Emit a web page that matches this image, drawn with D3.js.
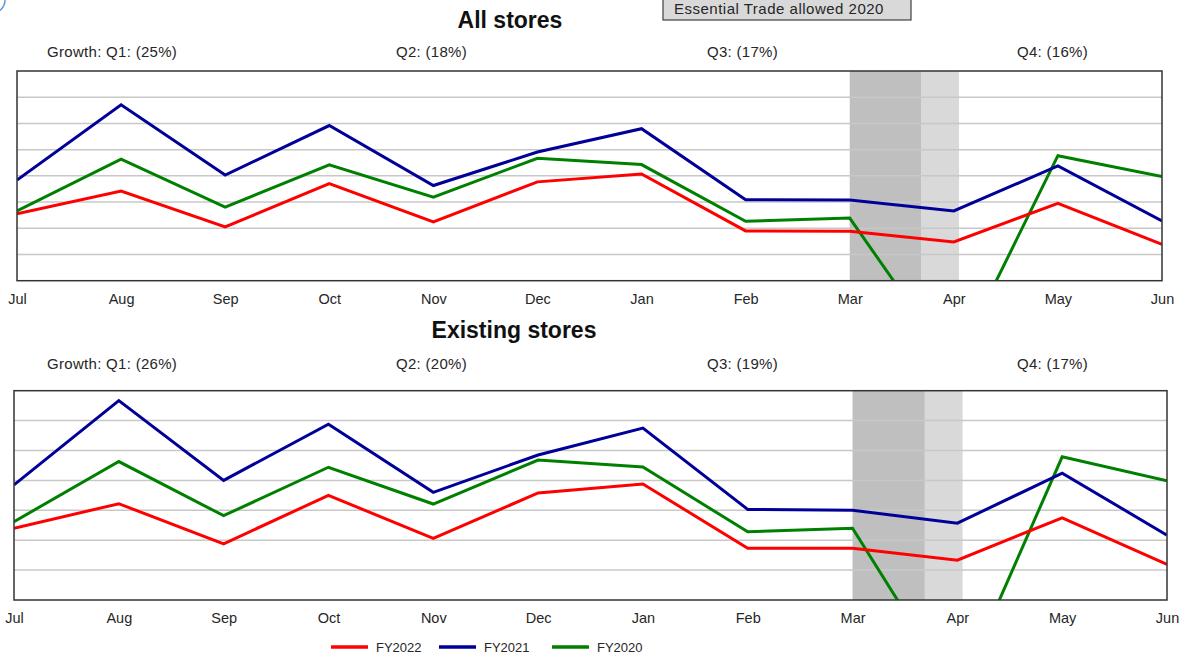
<!DOCTYPE html>
<html>
<head>
<meta charset="utf-8">
<script src="https://cdn.jsdelivr.net/npm/d3@7"></script>
<style>
  html, body { margin: 0; padding: 0; background: #fff; }
  svg { display: block; font-family: "Liberation Sans", Arial, sans-serif; }
</style>
</head>
<body>
<svg id="chart" width="1184" height="658"></svg>
<script>
// Months of the financial year
const months = ["Jul", "Aug", "Sep", "Oct", "Nov", "Dec", "Jan", "Feb", "Mar", "Apr", "May", "Jun"];

// All stores – monthly sales index
const allFY2022 = [2.55, 3.42, 2.05, 3.70, 2.24, 3.77, 4.07, 1.90, 1.89, 1.48, 2.95, 1.39];
const allFY2021 = [3.84, 6.71, 4.03, 5.92, 3.63, 4.91, 5.80, 3.09, 3.08, 2.66, 4.38, 2.28];
const allFY2020 = [2.66, 4.64, 2.81, 4.42, 3.19, 4.67, 4.43, 2.27, 2.39, -3.29, 4.77, 3.97];
const allGrowth = ["Growth: Q1: (25%)", "Q2: (18%)", "Q3: (17%)", "Q4: (16%)"];

// Existing stores – monthly sales index
const exFY2022 = [2.40, 3.22, 1.88, 3.50, 2.06, 3.58, 3.88, 1.73, 1.73, 1.33, 2.75, 1.19];
const exFY2021 = [3.85, 6.67, 4.00, 5.88, 3.60, 4.85, 5.75, 3.03, 3.00, 2.57, 4.24, 2.17];
const exFY2020 = [2.62, 4.63, 2.82, 4.44, 3.21, 4.68, 4.45, 2.28, 2.40, -3.20, 4.79, 3.99];
const exGrowth = ["Growth: Q1: (26%)", "Q2: (20%)", "Q3: (19%)", "Q4: (17%)"];

// Lockdown periods in month-index units (from Mar)
const lockdownStrict = [8.0, 8.69];
const lockdownEssential = [8.69, 9.05];

const seriesNames = ["FY2022", "FY2021", "FY2020"];
const seriesColors = ["#ff0000", "#000099", "#008000"];

const svg = d3.select("#chart");

function drawPanel(cfg) {
  const { title, titleX, titleY, growth, growthY, left, right, top, bottom, yMax, series, axisY, id } = cfg;
  const x = d3.scaleLinear().domain([0, months.length - 1]).range([left, right]);
  const y = d3.scaleLinear().domain([0, yMax]).range([bottom, top]);

  const g = svg.append("g");

  // title
  g.append("text")
    .attr("x", titleX)
    .attr("y", titleY)
    .attr("text-anchor", "middle")
    .attr("font-weight", "bold")
    .attr("font-size", 23)
    .attr("fill", "#111")
    .text(title);

  // quarterly growth labels
  const growthX = [47, 396, 707, 1017];
  g.selectAll(".growth").data(growth).enter().append("text")
    .attr("x", (d, i) => growthX[i])
    .attr("y", growthY)
    .attr("font-size", 15)
    .attr("letter-spacing", 0.3)
    .attr("fill", "#262626")
    .text(d => d);

  // shaded lockdown bands
  g.append("rect")
    .attr("x", x(lockdownStrict[0])).attr("y", top)
    .attr("width", x(lockdownStrict[1]) - x(lockdownStrict[0]))
    .attr("height", bottom - top)
    .attr("fill", "#bfbfbf");
  g.append("rect")
    .attr("x", x(lockdownEssential[0])).attr("y", top)
    .attr("width", x(lockdownEssential[1]) - x(lockdownEssential[0]))
    .attr("height", bottom - top)
    .attr("fill", "#d9d9d9");

  // horizontal gridlines
  const grid = d3.range(1, yMax);
  g.selectAll(".grid").data(grid).enter().append("line")
    .attr("x1", left).attr("x2", right)
    .attr("y1", d => y(d)).attr("y2", d => y(d))
    .attr("stroke", "#c8c8c8")
    .attr("stroke-width", 1.5);

  // clip area for lines
  svg.append("defs").append("clipPath").attr("id", id)
    .append("rect")
    .attr("x", left).attr("y", top)
    .attr("width", right - left).attr("height", bottom - top);

  const line = d3.line().x((d, i) => x(i)).y(d => y(d));
  const lines = g.append("g").attr("clip-path", `url(#${id})`);
  // draw older years first so FY2022 sits on top
  [2, 1, 0].forEach(k => {
    lines.append("path")
      .datum(series[k])
      .attr("d", line)
      .attr("fill", "none")
      .attr("stroke", seriesColors[k])
      .attr("stroke-width", 3)
      .attr("stroke-linejoin", "miter");
  });

  // frame
  g.append("rect")
    .attr("x", left).attr("y", top)
    .attr("width", right - left).attr("height", bottom - top)
    .attr("fill", "none")
    .attr("stroke", "#333")
    .attr("stroke-width", 1.5);

  // month axis labels
  const axis = d3.axisBottom(x)
    .tickValues(d3.range(months.length))
    .tickFormat(i => months[i])
    .tickSize(0)
    .tickPadding(0);
  const ax = g.append("g").attr("transform", `translate(0,${axisY})`).call(axis);
  ax.select(".domain").remove();
  ax.selectAll("text")
    .attr("font-size", 14.5)
    .attr("font-family", "Liberation Sans, Arial, sans-serif")
    .attr("fill", "#262626")
    .attr("dy", "0.35em");
}

drawPanel({
  id: "clipAll",
  title: "All stores", titleX: 510, titleY: 28,
  growth: allGrowth, growthY: 57,
  left: 17, right: 1162, top: 71, bottom: 280.7, yMax: 8,
  series: [allFY2022, allFY2021, allFY2020],
  axisY: 299
});

drawPanel({
  id: "clipExisting",
  title: "Existing stores", titleX: 514, titleY: 338,
  growth: exGrowth, growthY: 369,
  left: 14, right: 1167, top: 390.7, bottom: 600, yMax: 7,
  series: [exFY2022, exFY2021, exFY2020],
  axisY: 618
});

// annotation box for the essential-trade band
const note = svg.append("g");
note.append("rect")
  .attr("x", 663).attr("y", -10)
  .attr("width", 248).attr("height", 30)
  .attr("fill", "#d9d9d9")
  .attr("stroke", "#404040")
  .attr("stroke-width", 1.2);
note.append("text")
  .attr("x", 674).attr("y", 14)
  .attr("font-size", 15)
  .attr("letter-spacing", 0.5)
  .attr("fill", "#262626")
  .text("Essential Trade allowed 2020");

// partial marker at the top-left corner
svg.append("circle")
  .attr("cx", -8).attr("cy", 0).attr("r", 13)
  .attr("fill", "none")
  .attr("stroke", "#5b9bd5")
  .attr("stroke-width", 1.5);

// legend
const legendX = [331, 439, 552];
const legend = svg.append("g");
seriesNames.forEach((name, i) => {
  legend.append("line")
    .attr("x1", legendX[i]).attr("x2", legendX[i] + 37)
    .attr("y1", 647).attr("y2", 647)
    .attr("stroke", seriesColors[i])
    .attr("stroke-width", 3.5);
  legend.append("text")
    .attr("x", legendX[i] + 45).attr("y", 647)
    .attr("dy", "0.35em")
    .attr("font-size", 13)
    .attr("fill", "#262626")
    .text(name);
});
</script>
</body>
</html>
